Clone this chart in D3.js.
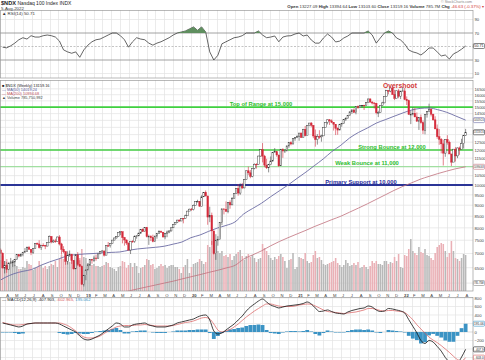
<!DOCTYPE html>
<html><head><meta charset="utf-8">
<script src="https://cdn.jsdelivr.net/npm/d3@7"></script>
<style>body{margin:0;background:#fff}svg{display:block;font-family:Arial,"Liberation Sans",sans-serif}</style>
</head><body><svg id="c" width="485" height="360"></svg>
<script>
// ---------------- DATA ----------------
const startDate = "2018-03-16";          // first weekly bar (Friday)
const firstOpen = 7130;
const closes = [7010,6490,6581,6443,6652,6668,6697,6775,6956,6908,6963,7046,7082,7217,7156,7040,7189,7374,7356,7217,7305,7298,7275,7423,7651,7432,7472,7442,7628,7356,7155,7068,6721,6924,6977,6749,6461,6950,6611,6548,5963,6235,
6423,6595,6785,6760,6836,6831,6986,7066,7091,6939,7291,7288,7378,7506,7589,7640,7815,7845,7605,7510,7394,7127,7458,7448,7660,7671,7784,7942,7846,8016,7645,7652,7598,7453,7663,7771,7848,7821,7632,7771,7828,7872,8002,8135,8232,8330,8290,8403,8397,8519,8729,8818,
8793,8991,9174,9187,8952,9402,9623,9446,8462,8530,7875,6994,7502,7528,8230,8832,8810,8718,9121,9015,9325,9556,9824,9588,9946,9849,10279,10768,10656,10461,10905,11139,11126,11627,12017,11622,11087,10938,11117,11332,11836,11896,11691,11052,12028,11937,11939,12258,12465,12377,12756,12804,12888,
13105,12803,13366,12925,13612,13807,13645,12909,12669,12865,12850,12916,13480,13846,14041,13963,13860,13720,13430,13312,13687,13774,14070,14143,14360,14640,14780,14590,15054,14960,15120,15150,15111,15374,15653,15396,15323,15309,14566,14579,15146,15335,15850,16345,16307,16573,16025,15712,16331,15870,16304,16320,
15612,15512,14439,14441,14525,14253,13939,14223,13837,13301,14420,14675,14838,14458,14040,13393,12855,12685,12388,11805,12681,12493,11754,11265,12051,11636,12126,12046,12401,12947,13159.16];
const highs = [7190,7040,6730,6700,6700,6840,6740,6790,6970,6960,7000,7060,7200,7260,7280,7150,7200,7380,7410,7500,7320,7380,7320,7430,7690,7650,7530,7560,7640,7700,7400,7270,7080,7080,7110,6980,6760,6980,7050,6760,6580,6260,
6440,6640,6800,6800,6920,6960,7000,7070,7130,7110,7300,7430,7390,7510,7600,7660,7820,7850,7830,7630,7530,7400,7470,7500,7690,7700,7800,7950,7980,8030,8040,7720,7700,7720,7680,7790,7900,7890,7830,7790,7890,7900,8020,8140,8240,8340,8360,8420,8410,8570,8740,8840,
8870,9030,9180,9260,9190,9480,9630,9720,9410,8930,8660,7860,7740,7660,8240,8840,8830,9180,9130,9230,9390,9560,9840,10050,10090,10110,10310,10780,11000,10810,10930,11190,11200,11640,12040,12440,11700,11460,11160,11600,11840,12120,11860,11700,12070,12110,12050,12270,12470,12560,12760,12820,12950,
13110,13140,13400,13600,13620,13810,13880,13640,13350,13030,13300,12990,13490,13850,14060,14100,14070,13870,13730,13500,13750,13800,14090,14230,14400,14650,14830,14900,15060,15140,15140,15170,15180,15390,15670,15700,15480,15400,15330,14720,15160,15420,15860,16400,16400,16600,16764,16400,16340,16480,16330,16660,
16570,15860,15600,14710,14990,14960,14590,14240,14430,13990,14440,14700,15270,14920,14490,14300,13700,13390,12770,12660,12690,12960,12600,11700,12060,12180,12160,12220,12720,12980,13395];
const lows = [6990,6480,6310,6330,6420,6640,6530,6550,6770,6860,6880,6900,7030,7070,7140,6940,6980,7180,7320,7180,7130,7270,7160,7270,7420,7380,7400,7400,7430,7300,6960,7010,6600,6610,6880,6630,6440,6500,6560,6530,5950,5895,
6090,6440,6560,6640,6700,6740,6820,6980,7030,6890,6960,7270,7220,7380,7500,7570,7630,7700,7380,7290,7320,7110,6980,7400,7400,7560,7740,7750,7840,7840,7610,7320,7470,7420,7440,7560,7770,7800,7600,7540,7620,7780,7850,8000,8130,8200,8250,8290,8190,8380,8560,8740,
8740,8760,9000,9130,8940,8990,9400,9420,8130,8240,7320,6960,6771,7290,7620,8110,8580,8700,8630,8840,9140,9330,9540,9460,9500,9790,9830,10270,10540,10360,10410,10850,10890,11130,11590,11250,10970,10870,10680,11090,11290,11850,11580,10990,11160,11520,11810,11950,12140,12290,12420,12590,12780,
12590,12780,12820,12880,13000,13580,13510,12760,12210,12340,12720,12530,12930,13510,13710,13670,13800,13280,12970,12990,13330,13540,13760,13960,14160,14340,14480,14560,14450,14860,14960,14980,14780,15130,15380,15380,15210,14890,14450,14240,14570,15130,15310,15860,16040,16210,16000,15560,15750,15710,15640,16300,
15560,15170,14420,13730,14370,14240,13910,13320,13760,13040,13020,14200,14680,14290,13980,13380,12720,12330,11790,11068,11580,12340,11750,11037,11390,11300,11500,11700,12060,12090,12910];
// weekly volume, billions of shares
const volumes = [3.1,3.5,3.0,3.2,2.7,3.0,3.1,2.6,2.5,2.2,2.2,2.4,2.3,3.0,2.7,2.6,2.1,2.3,2.4,3.0,2.6,2.3,2.5,2.2,2.5,2.7,2.6,3.0,2.4,3.2,3.6,3.2,3.8,3.4,2.9,3.1,2.6,3.3,3.3,3.3,4.2,3.4,
3.3,2.8,2.9,2.6,2.7,2.5,2.5,2.4,2.5,2.6,2.9,2.8,2.4,2.3,2.2,2.0,2.4,2.5,3.0,2.9,2.3,2.6,2.8,2.4,2.8,2.5,1.8,2.3,2.4,2.6,3.2,3.1,2.6,2.7,2.2,2.3,2.5,2.7,2.5,2.6,2.3,2.5,2.6,2.6,2.4,2.4,2.2,1.8,2.4,2.6,3.2,1.8,
2.4,2.7,2.8,2.9,3.2,3.0,2.7,2.9,4.6,4.4,5.0,5.2,4.6,4.0,3.8,4.0,3.5,3.6,3.4,3.7,3.1,3.5,3.7,3.9,4.1,3.5,3.1,3.5,3.7,3.4,3.6,3.3,2.9,3.2,3.3,4.7,4.3,4.0,3.6,3.3,3.1,3.4,3.2,3.5,3.7,3.4,3.0,2.3,3.1,3.2,3.8,2.2,2.4,
3.4,3.3,3.2,3.8,3.0,2.8,2.9,3.6,4.0,3.3,3.4,3.1,2.7,2.6,2.7,2.8,2.9,3.0,3.3,2.8,2.6,2.4,2.6,3.1,2.8,2.5,2.6,2.8,2.6,2.9,2.3,2.4,2.6,2.4,2.2,2.5,3.0,2.8,3.0,2.7,2.7,2.6,3.0,3.0,2.7,2.9,2.8,3.4,3.0,3.7,2.4,2.3,
3.6,3.5,4.2,5.2,4.0,3.8,3.6,4.4,3.9,3.8,4.2,3.6,3.5,3.3,3.1,3.8,4.4,4.6,4.8,4.7,4.0,3.4,3.8,5.0,4.0,3.3,3.2,3.0,3.3,3.7,3.6];
const maDates = ["2018-03-16","2018-04-01","2018-05-01","2018-06-01","2018-07-01","2018-08-01","2018-09-01","2018-10-01","2018-11-01","2018-12-01",
"2019-01-01","2019-02-01","2019-03-01","2019-04-01","2019-05-01","2019-06-01","2019-07-01","2019-08-01","2019-09-01","2019-10-01","2019-11-01","2019-12-01",
"2020-01-01","2020-02-01","2020-03-01","2020-04-01","2020-05-01","2020-06-01","2020-07-01","2020-08-01","2020-09-01","2020-10-01","2020-11-01","2020-12-01",
"2021-01-01","2021-02-01","2021-03-01","2021-04-01","2021-05-01","2021-06-01","2021-07-01","2021-08-01","2021-09-01","2021-10-01","2021-11-01","2021-12-01",
"2022-01-01","2022-02-01","2022-03-01","2022-04-01","2022-05-01","2022-06-01","2022-07-01","2022-08-05"];
const ma50 = [6097,6180,6300,6380,6440,6580,6700,6800,6912,6960,6984,7000,7020,7040,7056,7120,7167,7200,7230,7270,7350,7431,7600,7706,7850,7990,8100,8250,8600,8850,9100,9400,9700,10000,10350,10700,11050,11450,11900,12300,12773,13150,13460,13800,14050,14300,14555,14780,14900,14936,14800,14600,14330,14019.24];
const ma200 = [5000,5040,5090,5140,5190,5240,5290,5340,5390,5440,5490,5540,5590,5640,5700,5760,5820,5880,5940,6000,6060,6130,6200,6270,6340,6410,6490,6580,6800,6950,7100,7280,7450,7600,7750,7900,8050,8200,8350,8500,8680,8870,9070,9280,9500,9720,9930,10120,10300,10460,10610,10750,10880,10994.68];
// indicators every 2nd week (weeks 1,3,5,...,229)
const rsi = [49,48,51,55,60,63,61,66,64,64,66,67,66,64,58,45,42,40,42,34,45,52,57,60,61,64,67,70,70,66,60,49,57,63,61,60,55,52,55,57,60,63,67,70,71.5,73,76,79,74,79,71.5,42,30,37,54,57,60,63,64,66,70,70,70,73,67,63,64,65.6,57,64,65.6,66,68.5,70,65.6,67,59.6,55,55,62.6,68.5,64,56.7,58,62.6,65.6,70,70,70,70,73,67,55,62.6,70,73,70,62.6,59.6,53.7,44.8,42,40.4,37.4,42,47.8,47.8,42,36,37.4,31.5,39,42,46,50.71];
const macd = [212,188,165,141,118,141,188,200,212,212,212,212,212,212,188,141,94,47,0,-94,-165,-188,-165,-118,-71,0,71,141,212,188,118,118,165,188,200,212,165,141,118,118,118,141,165,212,235,259,282,306,353,388,400,282,24,-47,-24,47,118,188,282,376,494,588,659,729,776,706,635,600,565,588,612,623,635,647,670,706,659,565,482,494,518,482,447,435,424,471,506,529,553,565,612,588,518,482,494,553,541,518,494,447,290,135,-20,-200,-270,-200,-235,-340,-450,-600,-710,-800,-740,-590,-407.903];
const signal = [224,200,176,165,165,176,188,200,212,212,212,212,212,212,212,188,153,94,24,-59,-118,-141,-141,-129,-94,-35,24,71,118,141,153,153,153,165,165,176,165,153,141,141,141,141,153,176,200,224,235,259,294,329,341,306,188,47,0,24,59,118,188,271,353,424,494,553,612,659,659,635,612,600,600,600,612,635,647,659,647,612,565,518,482,471,459,447,435,447,459,471,494,518,553,553,529,506,494,506,506,494,482,459,380,290,170,70,-30,-120,-190,-250,-320,-400,-480,-570,-650,-680,-602.965];
const priceTicks = [6000,6500,7000,7500,8000,8500,9000,9500,10000,10500,11000,11500,12000,12500,13000,13500,14000,14500,15000,15500,16000,16500];
const rsiTicks = [90,70,30,10];
const macdTicks = [800,600,400,0,-200];
const levelValues = [15000,12000,11000,10000];
const levelLabels = ["Top of Range at 15,000","Strong Bounce at 12,000","Weak Bounce at 11,000","Primary Support at 10,000"];
const lastVolumeLabel = "785.75M";

// ---------------- LAYOUT ----------------
const svg = d3.select("#c");
const parse = d3.utcParse("%Y-%m-%d");
const t0 = parse(startDate);
const weekDate = i => d3.utcDay.offset(t0, 7 * i);
const plotR = 473;
const x = d3.scaleUtc().domain([parse("2018-03-14"), parse("2022-08-27")]).range([0, 472]);
const P = {rsi: {t: 10, b: 78}, main: {t: 80, b: 291}, macd: {t: 297, b: 366}};
const yP = d3.scaleLog().domain([5758, 17366]).range([291, 79]);
const yR = d3.scaleLinear().domain([0, 100]).range([80.25, 12.75]);
const yM = d3.scaleLinear().domain([-659, 847]).range([360, 296]);
const yV = d3.scaleLinear().domain([0, 6]).range([291, 231]);

const bars = closes.map((c, i) => ({
  date: weekDate(i), open: i ? closes[i - 1] : firstOpen, high: highs[i], low: lows[i], close: c, vol: volumes[i]
}));
const ind = rsi.map((r, k) => ({date: weekDate(2 * k + 1), rsi: r, macd: macd[k], signal: signal[k], hist: macd[k] - signal[k]}));
const maPts = maDates.map((d, i) => ({date: parse(d), ma50: ma50[i], ma200: ma200[i]}));
const last = ind[ind.length - 1];

const defs = svg.append("defs");
Object.entries(P).forEach(([k, p]) => {
  defs.append("clipPath").attr("id", "clip-" + k).append("rect")
    .attr("x", 0).attr("y", p.t).attr("width", plotR).attr("height", p.b - p.t);
});
defs.append("clipPath").attr("id", "clip-ob").append("rect")
  .attr("x", 0).attr("y", P.rsi.t).attr("width", plotR).attr("height", yR(70) - P.rsi.t);

const months = d3.utcMonth.range(x.domain()[0], x.domain()[1]);
Object.entries(P).forEach(([k, p]) => {
  const g = svg.append("g").attr("clip-path", `url(#clip-${k})`);
  g.selectAll("line.v").data(months).join("line")
    .attr("x1", d => Math.round(x(d)) + 0.5).attr("x2", d => Math.round(x(d)) + 0.5)
    .attr("y1", p.t).attr("y2", p.b).attr("stroke", "#e2e2e2").attr("stroke-width", 0.7);
});
const hgrid = (vals, sc, col) => svg.append("g").selectAll("line").data(vals).join("line")
  .attr("x1", 0).attr("x2", plotR).attr("y1", d => sc(d)).attr("y2", d => sc(d))
  .attr("stroke", col).attr("stroke-width", 0.7);
hgrid(priceTicks, yP, "#e2e2e2");
hgrid([90, 10], yR, "#e2e2e2");
hgrid([800, 600, 400, 200, -200, -400, -600], yM, "#e2e2e2");

// ---------------- RSI ----------------
const gR = svg.append("g").attr("clip-path", "url(#clip-rsi)");
[70, 30].forEach(v => gR.append("line").attr("x1", 0).attr("x2", plotR).attr("y1", yR(v)).attr("y2", yR(v)).attr("stroke", "#8a8a8a").attr("stroke-width", 0.8));
gR.append("line").attr("x1", 0).attr("x2", plotR).attr("y1", yR(50)).attr("y2", yR(50)).attr("stroke", "#aaa").attr("stroke-width", 0.7).attr("stroke-dasharray", "2,1.5");
svg.append("path").datum(ind).attr("clip-path", "url(#clip-ob)")
  .attr("d", d3.area().x(d => x(d.date)).y0(yR(70)).y1(d => yR(d.rsi)))
  .attr("fill", "#5f8f5f");
gR.append("path").datum(ind).attr("d", d3.line().x(d => x(d.date)).y(d => yR(d.rsi)))
  .attr("fill", "none").attr("stroke", "#333").attr("stroke-width", 0.75);

// ---------------- MAIN ----------------
const gM = svg.append("g").attr("clip-path", "url(#clip-main)");
const bw = 1.55;
gM.selectAll("rect.vol").data(bars).join("rect")
  .attr("x", d => x(d.date) - bw / 2).attr("width", bw)
  .attr("y", d => yV(d.vol)).attr("height", d => yV(0) - yV(d.vol))
  .attr("fill", d => d.close < d.open ? "#eab0b6" : "#b8b8b8");
const levelColors = ["#3fd03f", "#44cc44", "#8fdc8f", "#2a3496"];
const levelWidths = [1.6, 1.3, 1.0, 2.0];
gM.selectAll("line.lv").data(levelValues).join("line")
  .attr("x1", 0).attr("x2", plotR).attr("y1", d => yP(d)).attr("y2", d => yP(d))
  .attr("stroke", (d, i) => levelColors[i]).attr("stroke-width", (d, i) => levelWidths[i]);
const maLine = key => d3.line().x(d => x(d.date)).y(d => yP(d[key])).curve(d3.curveMonotoneX);
gM.append("path").datum(maPts).attr("d", maLine("ma200")).attr("fill", "none").attr("stroke", "#c0707c").attr("stroke-width", 0.8);
gM.append("path").datum(maPts).attr("d", maLine("ma50")).attr("fill", "none").attr("stroke", "#6c6ca4").attr("stroke-width", 0.9);
gM.selectAll("line.wick").data(bars).join("line")
  .attr("x1", d => x(d.date)).attr("x2", d => x(d.date))
  .attr("y1", d => yP(d.high)).attr("y2", d => yP(d.low))
  .attr("stroke", d => d.close < d.open ? "#d42a3a" : "#444").attr("stroke-width", 0.6);
gM.selectAll("rect.body").data(bars).join("rect")
  .attr("x", d => x(d.date) - 0.8).attr("width", 1.6)
  .attr("y", d => yP(Math.max(d.open, d.close)))
  .attr("height", d => Math.max(0.6, Math.abs(yP(d.open) - yP(d.close))))
  .attr("fill", d => d.close < d.open ? "#d42a3a" : "#fff")
  .attr("stroke", d => d.close < d.open ? "#d42a3a" : "#333").attr("stroke-width", 0.45);

const levelTextX = [261, 392, 367, 361];
const levelTextColors = ["#2ebd2e", "#2ebd2e", "#2ebd2e", "#1f2a9a"];
svg.append("g").selectAll("text").data(levelLabels).join("text")
  .attr("x", (d, i) => levelTextX[i]).attr("y", (d, i) => yP(levelValues[i]) - 1.2)
  .attr("text-anchor", "middle").attr("font-size", 5.8).attr("font-weight", "bold")
  .attr("fill", (d, i) => levelTextColors[i]).text(d => d);
svg.append("text").attr("x", 400).attr("y", 87.5).attr("text-anchor", "middle")
  .attr("font-size", 6.8).attr("font-weight", "bold").attr("fill", "#d23a3a").text("Overshoot");

// ---------------- MACD ----------------
const gD = svg.append("g").attr("clip-path", "url(#clip-macd)");
gD.append("line").attr("x1", 0).attr("x2", plotR).attr("y1", yM(0)).attr("y2", yM(0)).attr("stroke", "#ccc").attr("stroke-width", 0.7);
gD.selectAll("rect.h").data(ind).join("rect")
  .attr("x", d => x(d.date) - 1.9).attr("width", 3.8)
  .attr("y", d => Math.min(yM(0), yM(d.hist))).attr("height", d => Math.abs(yM(d.hist) - yM(0)))
  .attr("fill", "#3b93c4");
gD.append("path").datum(ind).attr("d", d3.line().x(d => x(d.date)).y(d => yM(d.signal)).curve(d3.curveMonotoneX))
  .attr("fill", "none").attr("stroke", "#d85a5a").attr("stroke-width", 0.7);
gD.append("path").datum(ind).attr("d", d3.line().x(d => x(d.date)).y(d => yM(d.macd)).curve(d3.curveMonotoneX))
  .attr("fill", "none").attr("stroke", "#111").attr("stroke-width", 0.8);

Object.values(P).forEach(p => {
  svg.append("rect").attr("x", 0.5).attr("y", p.t + 0.5).attr("width", plotR - 0.5).attr("height", p.b - p.t - 0.5)
    .attr("fill", "none").attr("stroke", "#9a9a9a").attr("stroke-width", 0.7);
});

// ---------------- AXES ----------------
const fs = 4.2;
const boxes = [
  {y: yP(closes[closes.length - 1]), t: d3.format(".2f")(closes[closes.length - 1]), c: "#222"},
  {y: yP(ma50[ma50.length - 1]), t: d3.format(".2f")(ma50[ma50.length - 1]), c: "#6c6ca4"},
  {y: yP(ma200[ma200.length - 1]), t: d3.format(".2f")(ma200[ma200.length - 1]), c: "#c0707c"},
  {y: 283, t: lastVolumeLabel, c: "#888"},
  {y: yR(rsi[rsi.length - 1]), t: d3.format(".2f")(rsi[rsi.length - 1]), c: "#333"},
  {y: yM(last.hist), t: d3.format(".2f")(last.hist), c: "#3b93c4"},
  {y: yM(last.macd), t: d3.format(".1f")(last.macd), c: "#111"},
  {y: yM(last.signal), t: d3.format(".1f")(last.signal), c: "#d85a5a"}
];
const free = sc => v => !boxes.some(b => Math.abs(b.y - sc(v)) < 5);
const axisR = (sc, ticks) => {
  const g = svg.append("g").attr("transform", `translate(${plotR},0)`)
    .call(d3.axisRight(sc).tickValues(ticks.filter(free(sc))).tickFormat(d3.format("d")).tickSize(0).tickPadding(1.5));
  g.select(".domain").remove();
  g.selectAll("text").attr("font-size", fs).attr("fill", "#444").attr("font-family", "Arial");
};
axisR(yP, priceTicks);
axisR(yR, rsiTicks);
axisR(yM, macdTicks);

const xa = svg.append("g").attr("transform", `translate(0,${P.main.b})`)
  .call(d3.axisBottom(x).tickValues(months).tickSize(0).tickPadding(3.5)
    .tickFormat(d => d.getUTCMonth() === 0 ? d3.utcFormat("%y")(d) : d3.utcFormat("%b")(d)[0]));
xa.select(".domain").remove();
xa.selectAll("text").attr("text-anchor", "start").attr("dx", 0.6).attr("font-size", fs).attr("fill", "#444")
  .attr("font-weight", d => d.getUTCMonth() === 0 ? "bold" : "normal").attr("font-family", "Arial");

boxes.forEach(b => {
  const g = svg.append("g").attr("transform", `translate(${plotR + 0.4},${b.y})`);
  g.append("rect").attr("x", 0).attr("y", -2.5).attr("width", 11.2).attr("height", 5).attr("rx", 1)
    .attr("fill", "#fff").attr("stroke", b.c).attr("stroke-width", 0.6);
  g.append("text").attr("x", 0.7).attr("y", 1.2).attr("font-size", 2.6).attr("fill", "#222")
    .attr("textLength", 9.6).attr("lengthAdjust", "spacingAndGlyphs").text(b.t);
});

// ---------------- TEXT: header & legends ----------------
const hdr = svg.append("text").attr("x", 1).attr("y", 5.2).attr("font-size", 5).attr("fill", "#222");
hdr.append("tspan").attr("font-weight", "bold").attr("font-size", 5.6).text("$NDX ");
hdr.append("tspan").text("Nasdaq 100 Index  INDX");
svg.append("text").attr("x", 1).attr("y", 9.6).attr("font-size", 4.4).attr("fill", "#333").text("5-Aug-2022");
svg.append("text").attr("x", 472).attr("y", 3.2).attr("text-anchor", "end").attr("font-size", 3.6).attr("fill", "#888").text("© StockCharts.com");
const hr = svg.append("text").attr("x", 484).attr("y", 7.8).attr("text-anchor", "end").attr("font-size", 4.3).attr("fill", "#333");
[["Open", "13227.09"], ["High", "13394.64"], ["Low", "13103.60"], ["Close", "13159.16"], ["Volume", "785.7M"]].forEach(([a, b]) => {
  hr.append("tspan").attr("font-weight", "bold").text(a + " ");
  hr.append("tspan").text(b + "  ");
});
hr.append("tspan").attr("font-weight", "bold").text("Chg ");
hr.append("tspan").attr("fill", "#d23a3a").text("-46.63 (-0.37%) \u25BE");

svg.append("text").attr("x", 2).attr("y", 15.2).attr("font-size", 4.4).attr("fill", "#333").text("\u25B2 RSI(14) 50.71");
const lg = [["\u25A0 $NDX (Weekly) 13159.16", "#222"], ["\u2014 MA(50) 14019.24", "#5a5a98"], ["\u2014 MA(200) 10994.68", "#c0505c"], ["\u25B2 Volume 785,750,992", "#444"]];
svg.append("g").selectAll("text").data(lg).join("text")
  .attr("x", 2).attr("y", (d, i) => 86.5 + i * 4.3).attr("font-size", 3.9).attr("fill", d => d[1]).text(d => d[0]);
const ml = svg.append("text").attr("x", 2).attr("y", 301.3).attr("font-size", 4.2).attr("fill", "#222");
ml.append("tspan").text("\u2014 MACD(12,26,9) -407.903, ");
ml.append("tspan").attr("fill", "#d85a5a").text("-602.965, ");
ml.append("tspan").attr("fill", "#3b93c4").text("195.062");
</script></body></html>
